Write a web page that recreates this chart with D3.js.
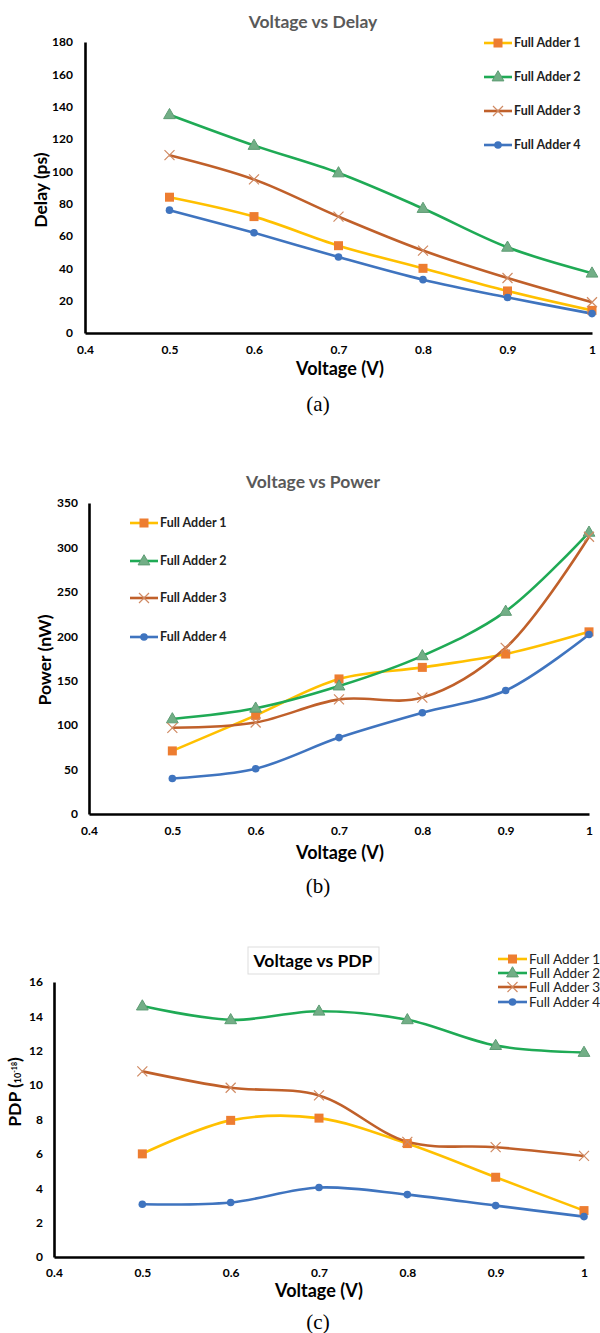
<!DOCTYPE html>
<html>
<head>
<meta charset="utf-8">
<script src="https://cdn.jsdelivr.net/npm/d3@7"></script>
<style>
  body { margin: 0; background: #fff; }
  svg { display: block; }
  .tick text { font-family: Lato, "Open Sans", sans-serif; font-weight: bold; font-size: 12px; fill: #000; }
</style>
</head>
<body>
<script>
(function(){

//shared x values and series names
var voltage = [0.5, 0.6, 0.7, 0.8, 0.9, 1.0];
var seriesNames = ["Full Adder 1", "Full Adder 2", "Full Adder 3", "Full Adder 4"];
var xTicks = [0.4, 0.5, 0.6, 0.7, 0.8, 0.9, 1];

//(a) delay in ps
var delayFA1 = [84, 72, 54, 40, 26, 14];
var delayFA2 = [135, 116, 99, 77, 53, 37];
var delayFA3 = [110, 95, 72, 51, 34, 19];
var delayFA4 = [76, 62, 47, 33, 22, 12];
var delayTicks = [0, 20, 40, 60, 80, 100, 120, 140, 160, 180];

//(b) power in nW
var powerFA1 = [71, 111, 152, 165, 180, 205];
var powerFA2 = [107, 119, 144, 178, 228, 317];
var powerFA3 = [97, 103, 129, 131, 187, 312];
var powerFA4 = [40, 51, 86, 114, 139, 202];
var powerTicks = [0, 50, 100, 150, 200, 250, 300, 350];

//(c) PDP in 10^-18
var pdpFA1 = [6.0, 7.95, 8.08, 6.6, 4.64, 2.7];
var pdpFA2 = [14.6, 13.8, 14.3, 13.8, 12.3, 11.9];
var pdpFA3 = [10.8, 9.85, 9.4, 6.7, 6.39, 5.88];
var pdpFA4 = [3.07, 3.17, 4.04, 3.63, 2.99, 2.35];
var pdpTicks = [0, 2, 4, 6, 8, 10, 12, 14, 16];

//series styling
var lineColors = ["#FFC000", "#1FAA55", "#C0602A", "#3F74BF"];
var markerFill = ["#ED7D31", "#72AE86", "none", "#3F74BF"];
var markerStroke = ["#ED7D31", "#5E9C74", "#C0602A", "#3F74BF"];

var font = "Lato, 'Open Sans', sans-serif";

var svg = d3.select("body").append("svg")
    .attr("width", 600)
    .attr("height", 1333);

//draw a marker of series i centred at (x,y)
function drawMarker(g, i, x, y){
    if (i == 0){
        g.append("rect").attr("x", x - 4.5).attr("y", y - 4.5)
            .attr("width", 9).attr("height", 9)
            .attr("fill", markerFill[i]);
    } else if (i == 1){
        g.append("path")
            .attr("d", d3.symbol().type(d3.symbolTriangle).size(60)())
            .attr("transform", "translate(" + x + "," + (y + 0.5) + ")")
            .attr("fill", markerFill[i])
            .attr("stroke", markerStroke[i]).attr("stroke-width", 1);
    } else if (i == 2){
        g.append("path")
            .attr("d", "M-5,-5L5,5M-5,5L5,-5")
            .attr("transform", "translate(" + x + "," + y + ")")
            .attr("stroke", "#D08A63").attr("stroke-width", 1.2).attr("fill", "none");
    } else {
        g.append("circle").attr("cx", x).attr("cy", y).attr("r", 3.8)
            .attr("fill", markerFill[i]);
    }
}

function drawPanel(cfg){
    var g = svg.append("g");

    var x = d3.scaleLinear().domain([0.4, 1]).range([cfg.x0, cfg.x1]);
    var y = d3.scaleLinear().domain([0, cfg.yMax]).range([cfg.yBottom, cfg.yTop]);

    //axes
    var yAxis = g.append("g")
        .attr("transform", "translate(" + cfg.x0 + ",0)")
        .call(d3.axisLeft(y).tickValues(cfg.yTicks).tickSize(0).tickPadding(cfg.yPad));
    var xAxis = g.append("g")
        .attr("transform", "translate(0," + cfg.yBottom + ")")
        .call(d3.axisBottom(x).tickValues(xTicks).tickSize(0).tickPadding(cfg.xPad)
            .tickFormat(function(d){ return d == 1 ? "1" : d3.format(".1f")(d); }));
    [yAxis, xAxis].forEach(function(a){
        a.select(".domain").attr("stroke", "#000").attr("stroke-width", 2.6);
    });

    //lines
    var line = d3.line()
        .x(function(d, i){ return x(voltage[i]); })
        .y(function(d){ return y(d); })
        .curve(d3.curveCatmullRom.alpha(0.5));

    cfg.series.forEach(function(s, i){
        g.append("path")
            .datum(s)
            .attr("d", line)
            .attr("fill", "none")
            .attr("stroke", lineColors[i])
            .attr("stroke-width", 2.6);
    });
    cfg.series.forEach(function(s, i){
        s.forEach(function(v, j){
            drawMarker(g, i, x(voltage[j]), y(v));
        });
    });

    //legend
    seriesNames.forEach(function(name, i){
        var ly = cfg.legY[i];
        g.append("line")
            .attr("x1", cfg.legX).attr("x2", cfg.legX + cfg.legLen)
            .attr("y1", ly).attr("y2", ly)
            .attr("stroke", lineColors[i]).attr("stroke-width", 2.6);
        drawMarker(g, i, cfg.legX + cfg.legLen / 2, ly);
        g.append("text")
            .attr("x", cfg.legX + cfg.legLen + 2).attr("y", ly)
            .attr("dy", "0.35em")
            .attr("font-family", font)
            .attr("font-size", cfg.legFont)
            .attr("font-weight", cfg.legWeight)
            .attr("fill", "#222")
            .text(name);
    });

    //title
    if (cfg.titleBox){
        g.append("rect")
            .attr("x", cfg.titleBox[0]).attr("y", cfg.titleBox[1])
            .attr("width", cfg.titleBox[2]).attr("height", cfg.titleBox[3])
            .attr("fill", "#fff").attr("stroke", "#ddd").attr("stroke-width", 1);
    }
    g.append("text")
        .attr("x", cfg.titleX).attr("y", cfg.titleY)
        .attr("text-anchor", "middle")
        .attr("font-family", font)
        .attr("font-size", 17.5)
        .attr("font-weight", "bold")
        .attr("fill", cfg.titleColor)
        .text(cfg.title);

    //x axis title
    g.append("text")
        .attr("x", cfg.xTitleX).attr("y", cfg.xTitleY)
        .attr("text-anchor", "middle")
        .attr("font-family", font)
        .attr("font-size", 18)
        .attr("font-weight", "bold")
        .text("Voltage (V)");

    //y axis title
    var yt = g.append("text")
        .attr("transform", "translate(" + cfg.yTitleX + "," + cfg.yTitleY + ") rotate(-90)")
        .attr("text-anchor", "middle")
        .attr("font-family", font)
        .attr("font-size", 17.5)
        .attr("font-weight", "bold");
    if (cfg.yTitleParts){
        yt.append("tspan").text("PDP  (");
        yt.append("tspan").attr("font-size", 9).text("10");
        yt.append("tspan").attr("font-size", 7).attr("dy", -4).text("-18");
        yt.append("tspan").attr("dy", 4).text(")");
    } else {
        yt.text(cfg.yTitle);
    }

    //caption
    g.append("text")
        .attr("x", 318).attr("y", cfg.capY)
        .attr("text-anchor", "middle")
        .attr("font-family", "'Liberation Serif', 'DejaVu Serif', serif")
        .attr("font-size", 21)
        .text(cfg.caption);
}

drawPanel({
    x0: 85, x1: 592, yTop: 42, yBottom: 333, yMax: 180, yTicks: delayTicks,
    yPad: 12, xPad: 12,
    series: [delayFA1, delayFA2, delayFA3, delayFA4],
    legX: 484, legLen: 28, legY: [43, 77, 111, 145], legFont: 12.5, legWeight: "bold",
    title: "Voltage vs Delay", titleX: 313, titleY: 28, titleColor: "#595959",
    xTitleX: 340, xTitleY: 375, yTitleX: 47, yTitleY: 190, yTitle: "Delay (ps)",
    caption: "(a)", capY: 411
});

drawPanel({
    x0: 89, x1: 589, yTop: 503, yBottom: 814, yMax: 350, yTicks: powerTicks,
    yPad: 11, xPad: 12,
    series: [powerFA1, powerFA2, powerFA3, powerFA4],
    legX: 130, legLen: 28, legY: [523, 561, 598, 637], legFont: 12.5, legWeight: "bold",
    title: "Voltage vs Power", titleX: 313, titleY: 488, titleColor: "#595959",
    xTitleX: 340, xTitleY: 859, yTitleX: 51, yTitleY: 660, yTitle: "Power (nW)",
    caption: "(b)", capY: 893
});

drawPanel({
    x0: 54, x1: 584, yTop: 982, yBottom: 1257, yMax: 16, yTicks: pdpTicks,
    yPad: 11, xPad: 11,
    series: [pdpFA1, pdpFA2, pdpFA3, pdpFA4],
    legX: 498, legLen: 29, legY: [959, 973, 987, 1002], legFont: 13.5, legWeight: "normal",
    title: "Voltage vs PDP", titleX: 313, titleY: 967, titleColor: "#000",
    titleBox: [248, 947, 131, 27],
    xTitleX: 319, xTitleY: 1297, yTitleX: 21, yTitleY: 1092, yTitleParts: true,
    caption: "(c)", capY: 1329
});

})();
</script>
</body>
</html>
